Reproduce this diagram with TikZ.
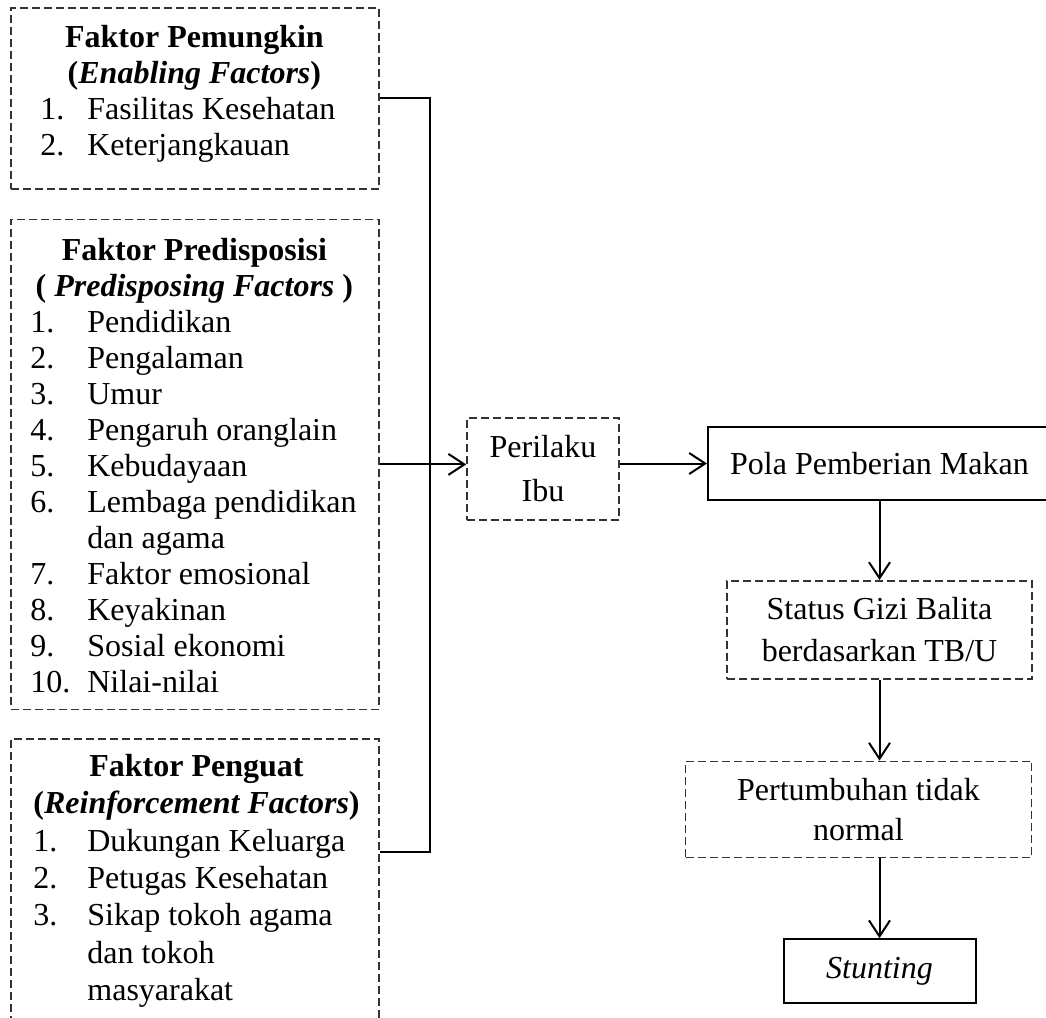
\documentclass[tikz,border=0pt]{standalone}
\usepackage{fontspec}
\setmainfont{Liberation Serif}
\usetikzlibrary{positioning,arrows.meta}

\begin{document}
\begin{tikzpicture}[
			x=0.5pt, y=-0.5pt,
			font=\fontsize{16pt}{18pt}\selectfont,
			% 虚线框
			dashbox/.style={rectangle, draw=black!80, line width=0.8pt, dash pattern=on 4pt off 2pt, inner sep=0pt},
			% 实线框
			solidbox/.style={rectangle, draw=black, line width=1pt, inner sep=0pt},
			% 框里的列表文字
			listtext/.style={inner sep=0pt},
			line/.style={draw=black, line width=1pt},
			arr/.style={line, -{Straight Barb[length=8pt,width=10.5pt]}}
		]
		\useasboundingbox (0,0) rectangle (1046,1018);
		\clip (0,0) rectangle (1046,1018);

		%Nodes
		\node[dashbox, minimum width=184pt, minimum height=90.5pt, anchor=north west] (enabling) at (10,7) {};
		\node[dashbox, minimum width=184pt, minimum height=245pt, below=14.5pt of enabling] (predis) {};
		\node[dashbox, minimum width=184pt, minimum height=147.5pt, below=14pt of predis] (reinf) {};

		\node[listtext, below right=7.4pt and 15pt of enabling.north west] (enablingtext) {%
			\begin{tabular}{@{}p{23.5pt}@{}p{130.5pt}@{}}
				\multicolumn{2}{@{}c@{}}{\textbf{Faktor Pemungkin}}\\
				\multicolumn{2}{@{}c@{}}{\textbf{(\textit{Enabling Factors})}}\\
				1. & Fasilitas Kesehatan\\
				2. & Keterjangkauan
			\end{tabular}};
		\node[listtext, below right=7.9pt and 10pt of predis.north west] (predistext) {%
			\begin{tabular}{@{}p{28.5pt}@{}p{135.5pt}@{}}
				\multicolumn{2}{@{}c@{}}{\textbf{Faktor Predisposisi}}\\
				\multicolumn{2}{@{}c@{}}{\textbf{( \textit{Predisposing Factors} )}}\\
				1. & Pendidikan\\
				2. & Pengalaman\\
				3. & Umur\\
				4. & Pengaruh oranglain\\
				5. & Kebudayaan\\
				6. & Lembaga pendidikan\\
				   & dan agama\\
				7. & Faktor emosional\\
				8. & Keyakinan\\
				9. & Sosial ekonomi\\
				10. & Nilai-nilai
			\end{tabular}};
		\node[listtext, below right=5.95pt and 11.5pt of reinf.north west] (reinftext) {%
			\renewcommand{\arraystretch}{1.036}%
			\begin{tabular}{@{}p{27pt}@{}p{134pt}@{}}
				\multicolumn{2}{@{}c@{}}{\textbf{Faktor Penguat}}\\
				\multicolumn{2}{@{}c@{}}{\textbf{(\textit{Reinforcement Factors})}}\\
				1. & Dukungan Keluarga\\
				2. & Petugas Kesehatan\\
				3. & Sikap tokoh agama\\
				   & dan tokoh\\
				   & masyarakat
			\end{tabular}};

		\node[dashbox, minimum width=76pt, minimum height=51pt, align=center, font=\fontsize{16pt}{22pt}\selectfont] (perilaku) at (543,469) {Perilaku\\Ibu};
		\node[solidbox, minimum width=171.5pt, minimum height=36.5pt, anchor=west] (pola) at (707,463.5) {Pola Pemberian Makan};
		\node[dashbox, minimum width=152.5pt, minimum height=49pt, align=center, font=\fontsize{16pt}{21pt}\selectfont, below=39.5pt of pola] (status) {Status Gizi Balita\\berdasarkan TB/U};
		\node[dashbox, minimum width=173pt, minimum height=48pt, align=center, font=\fontsize{16pt}{20pt}\selectfont, below=40.5pt of status, xshift=-10.5pt] (pertum) {Pertumbuhan tidak\\normal};
		\node[solidbox, minimum width=96pt, minimum height=32pt, below=40pt of pertum, xshift=10.5pt] (stunting) {\textit{Stunting}};

		% 看不见的点, 用来连接折线
		\coordinate (jbot) at (430,852);

		%Lines
		\draw[line] (enabling.east) -| (jbot) -- (reinf.east |- jbot);
		\draw[arr] (predis.east) -- (predis.east -| perilaku.west);
		\draw[arr] (perilaku.east |- pola.west) -- (pola.west);
		\draw[arr] (pola.south) -- (status.north);
		\draw[arr] (status.south) -- (status.south |- pertum.north);
		\draw[arr] (pertum.south -| stunting.north) -- (stunting.north);
	\end{tikzpicture}
\end{document}
